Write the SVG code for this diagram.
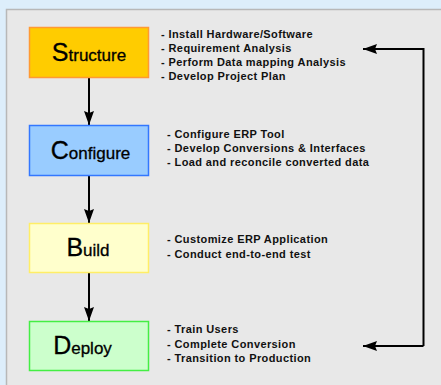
<svg xmlns="http://www.w3.org/2000/svg" width="441" height="385" viewBox="0 0 441 385">
<defs>
<style>
.t{font-family:"Liberation Sans",Arial,sans-serif;font-weight:bold;font-size:11px;letter-spacing:0.4px;fill:#111}
.big{font-family:"Liberation Sans",Arial,sans-serif;fill:#000;stroke:#000;stroke-width:0.3}
.big tspan.c{font-size:25px}
.big tspan.s{font-size:17px}
.ln{stroke:#000;stroke-width:2;fill:none}
</style>
<marker id="ah" viewBox="0 0 14 10" refX="14" refY="5" markerWidth="14" markerHeight="10" markerUnits="userSpaceOnUse" orient="auto">
<path d="M0,0 L14,5 L0,10 L2,5 z" fill="#000"/>
</marker>
</defs>
<rect x="0" y="0" width="441" height="385" fill="#ddeefb"/>
<rect x="6.5" y="9.5" width="440" height="380" fill="#e8e8e8" stroke="#b8b8b8" stroke-width="1.5"/>

<g id="connectors">
<line class="ln" x1="89" y1="78" x2="89" y2="125" marker-end="url(#ah)"/>
<line class="ln" x1="89" y1="176" x2="89" y2="223" marker-end="url(#ah)"/>
<line class="ln" x1="89" y1="273" x2="89" y2="321" marker-end="url(#ah)"/>
<polyline class="ln" points="423.5,346 423.5,49 363,49" marker-end="url(#ah)"/>
<line class="ln" x1="423.5" y1="346" x2="363" y2="346" marker-end="url(#ah)"/>
</g>

<g id="structure">
<rect x="29.5" y="27.5" width="119" height="50" fill="#ffcc00" stroke="#ff9933" stroke-width="1.5"/>
<text class="big" x="89" y="61" text-anchor="middle"><tspan class="c">S</tspan><tspan class="s">tructure</tspan></text>
<text class="t" x="161" y="38">- Install Hardware/Software</text>
<text class="t" x="161" y="52">- Requirement Analysis</text>
<text class="t" x="161" y="66">- Perform Data mapping Analysis</text>
<text class="t" x="161" y="80">- Develop Project Plan</text>
</g>

<g id="configure">
<rect x="29.5" y="125.5" width="119" height="50" fill="#99ccff" stroke="#3377ff" stroke-width="1.5"/>
<text class="big" x="90.5" y="159" text-anchor="middle"><tspan class="c">C</tspan><tspan class="s">onfigure</tspan></text>
<text class="t" x="167" y="138">- Configure ERP Tool</text>
<text class="t" x="167" y="152">- Develop Conversions &amp; Interfaces</text>
<text class="t" x="167" y="166">- Load and reconcile converted data</text>
</g>

<g id="build">
<rect x="29.5" y="223.5" width="119" height="49" fill="#ffffcc" stroke="#ffee66" stroke-width="1.5"/>
<text class="big" x="88" y="256" text-anchor="middle"><tspan class="c">B</tspan><tspan class="s">uild</tspan></text>
<text class="t" x="167" y="243">- Customize ERP Application</text>
<text class="t" x="167" y="258">- Conduct end-to-end test</text>
</g>

<g id="deploy">
<rect x="29.5" y="321.5" width="119" height="49" fill="#ccffcc" stroke="#44ee44" stroke-width="1.5"/>
<text class="big" x="82.5" y="354" text-anchor="middle"><tspan class="c">D</tspan><tspan class="s">eploy</tspan></text>
<text class="t" x="167" y="333">- Train Users</text>
<text class="t" x="167" y="348">- Complete Conversion</text>
<text class="t" x="167" y="362">- Transition to Production</text>
</g>
</svg>
